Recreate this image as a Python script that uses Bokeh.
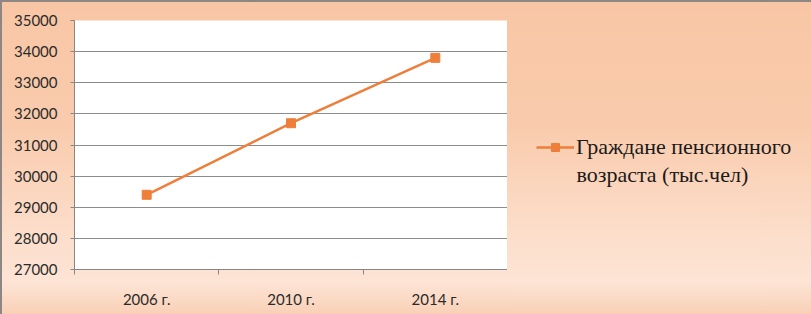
from bokeh.plotting import figure
from bokeh.layouts import row
from bokeh.models import FixedTicker, Legend, LegendItem, Label
from bokeh.embed import file_html
from bokeh.resources import INLINE

categories = ["2006 г.", "2010 г.", "2014 г."]
values = [29400, 31700, 33800]
y_ticks = [27000, 28000, 29000, 30000, 31000, 32000, 33000, 34000, 35000]
series_name_1 = "Граждане пенсионного"
series_name_2 = "возраста (тыс.чел)"

ORANGE = "#EE7F3B"
SERIF = "Liberation Serif"
xs = [i + 0.5 for i in range(len(categories))]

p = figure(width=507, height=314, output_backend="svg", toolbar_location=None,
           x_range=(0, len(categories)), y_range=(y_ticks[0], y_ticks[-1]),
           min_border_left=74, min_border_right=0, min_border_top=20, min_border_bottom=45)
p.border_fill_color = None
p.background_fill_color = "white"
p.outline_line_color = None

line = p.line(xs, values, line_color=ORANGE, line_width=2.5)
pts = p.scatter(xs, values, marker="square", size=9, fill_color=ORANGE, line_color=ORANGE)

p.xaxis.ticker = FixedTicker(ticks=xs, minor_ticks=list(range(len(categories) + 1)))
p.xaxis.major_label_overrides = {x: c for x, c in zip(xs, categories)}
p.xaxis.major_tick_line_color = None
p.xaxis.major_tick_out = 0
p.xaxis.major_tick_in = 0
p.xaxis.minor_tick_out = 5
p.xaxis.minor_tick_in = 0
p.xaxis.minor_tick_line_color = "#868686"
p.xaxis.axis_line_color = "#868686"
p.xaxis.major_label_standoff = 15

p.yaxis.ticker = FixedTicker(ticks=y_ticks)
p.yaxis.minor_tick_line_color = None
p.yaxis.major_tick_out = 4
p.yaxis.major_tick_in = 0
p.yaxis.major_tick_line_color = "#868686"
p.yaxis.axis_line_color = "#868686"
p.yaxis.major_label_standoff = 13

for ax in (p.xaxis, p.yaxis):
    ax.major_label_text_font = "Lato"
    ax.major_label_text_font_size = "15px"
    ax.major_label_text_color = "#2B2B2B"

p.xgrid.grid_line_color = None
p.ygrid.grid_line_color = "#8C8C8C"
p.ygrid.ticker = FixedTicker(ticks=y_ticks)

# legend panel (its frame is aligned with the chart's frame: y 20..269)
# the key renderers hold the same series, which lies outside this panel's ranges
q = figure(width=304, height=314, output_backend="svg", toolbar_location=None,
           x_axis_type=None, y_axis_type=None, x_range=(0, 1), y_range=(0, 1),
           min_border_left=0, min_border_right=0, min_border_top=20, min_border_bottom=45)
q.border_fill_color = None
q.background_fill_color = None
q.outline_line_color = None
q.grid.grid_line_color = None
lg_line = q.line(xs, values, line_color=ORANGE, line_width=2.5)
lg_pts = q.scatter(xs, values, marker="square", size=8, fill_color=ORANGE, line_color=ORANGE)

legend = Legend(items=[LegendItem(label=series_name_1, renderers=[lg_line, lg_pts])],
                location=(29, 109), glyph_width=38, glyph_height=20, label_standoff=2,
                padding=0, margin=0,
                label_text_font=SERIF, label_text_font_size="22px",
                label_text_color="#1A1A1A", background_fill_alpha=0, border_line_alpha=0)
q.add_layout(legend)

lab2 = Label(x=69, y=95, x_units="screen", y_units="screen", text=series_name_2,
             text_font=SERIF, text_font_size="22px", text_color="#1A1A1A",
             text_baseline="middle")
q.add_layout(lab2)

layout = row(p, q, spacing=0, styles={
    "background": "linear-gradient(to bottom, #F8C6A5 0%, #F9CBAC 40%, #FCDECB 75%, #FDE4D5 90%, #F9D0B6 100%)",
    "box-shadow": "inset 2px 2px 0 #8E8682",
})

open("out.html", "w").write(file_html(layout, INLINE))
